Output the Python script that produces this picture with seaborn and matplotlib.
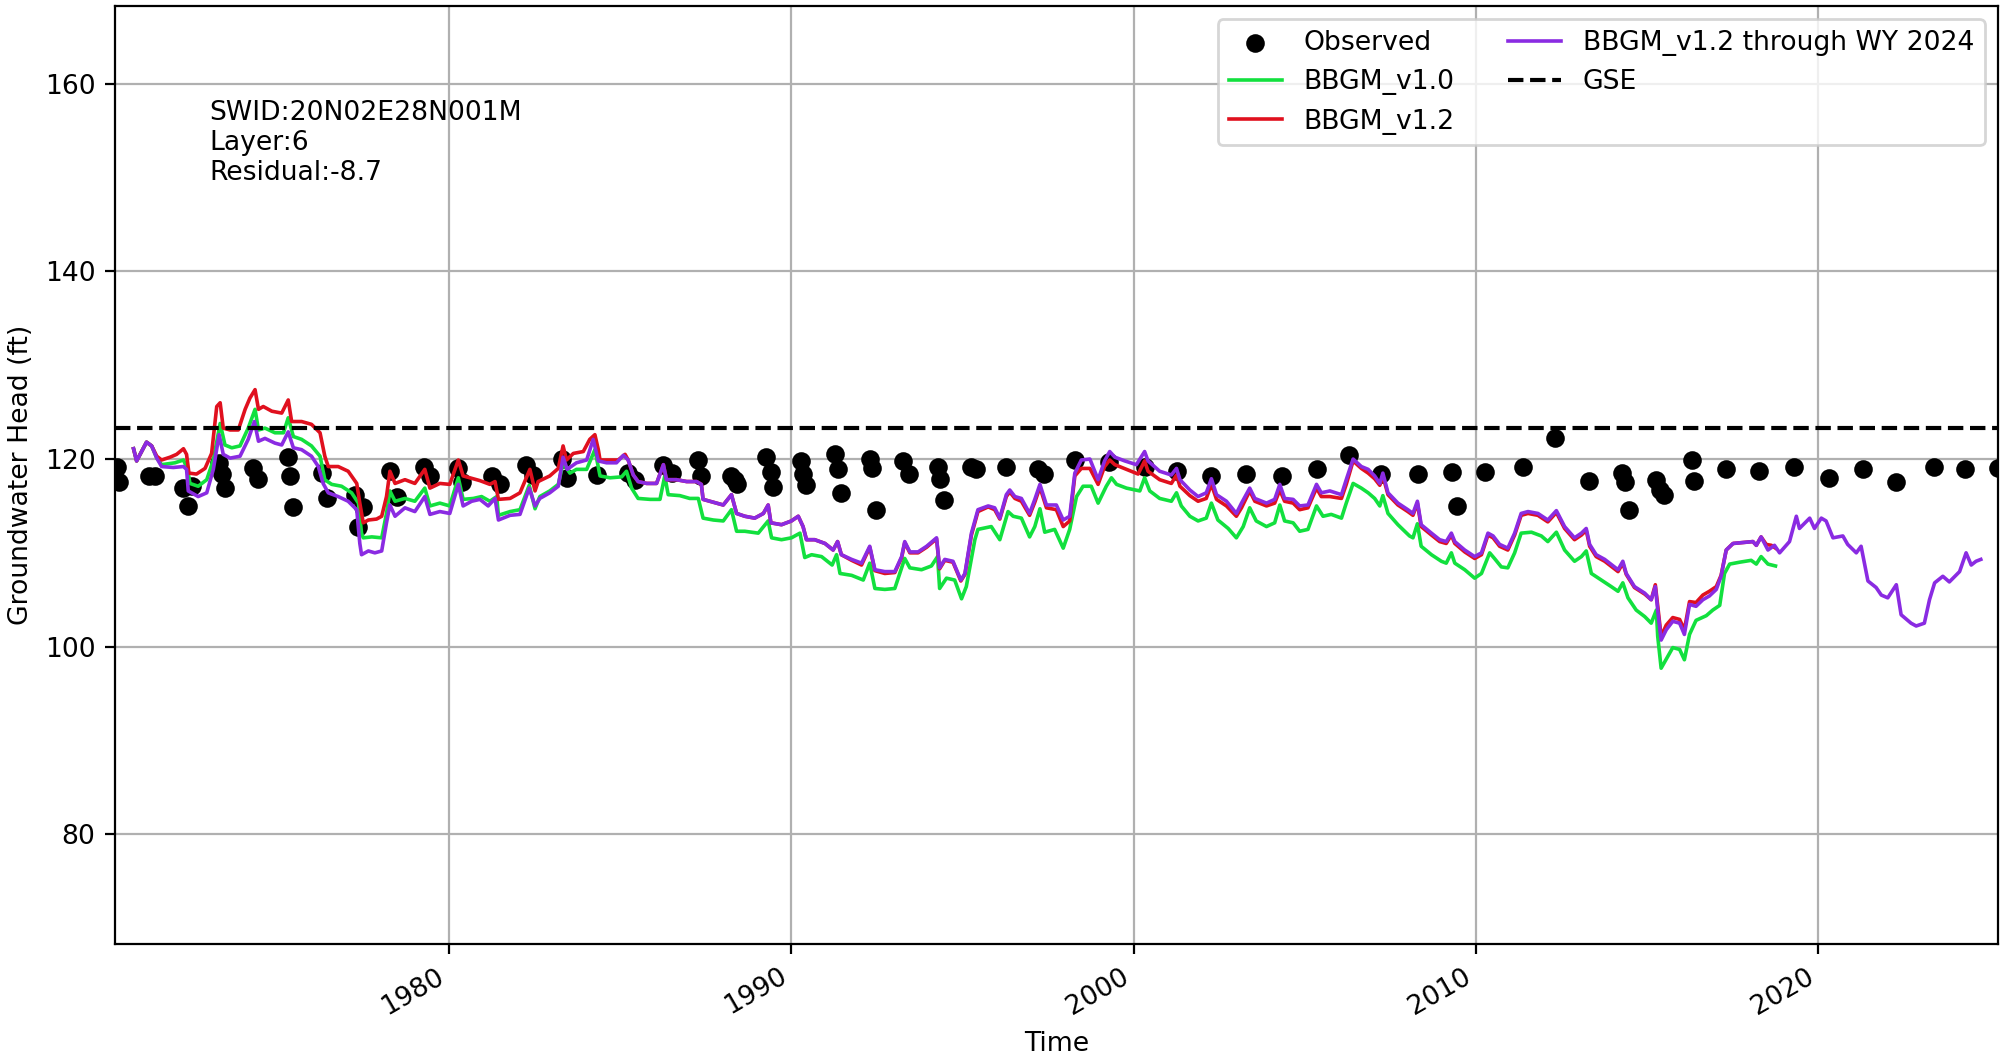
import pandas as pd
import matplotlib
matplotlib.use("Agg")
import matplotlib.pyplot as plt
import matplotlib.dates as mdates
import seaborn as sns

# Observed heads (decimal year, ft)
obs_years = [1970.24, 1970.30, 1970.36, 1971.22, 1971.40, 1972.24, 1972.38, 1972.48,
             1973.28, 1973.36, 1973.45, 1974.28, 1974.43, 1975.28, 1975.35, 1975.45,
             1976.28, 1976.42, 1977.25, 1977.35, 1977.49, 1978.27, 1978.47, 1979.27,
             1979.44, 1980.27, 1980.38, 1981.24, 1981.48, 1982.26, 1982.46, 1983.29,
             1983.43, 1984.31, 1985.23, 1985.43, 1986.26, 1986.50, 1987.28, 1987.37,
             1988.25, 1988.35, 1988.40, 1989.27, 1989.40, 1989.47, 1990.28, 1990.34,
             1990.44, 1991.27, 1991.37, 1991.44, 1992.29, 1992.36, 1992.46, 1993.26,
             1993.43, 1994.27, 1994.33, 1994.46, 1995.26, 1995.38, 1996.28, 1997.21,
             1997.38, 1998.28, 1999.28, 2000.32, 2001.27, 2002.27, 2003.27, 2004.34,
             2005.36, 2006.29, 2007.24, 2008.31, 2009.30, 2009.45, 2010.27, 2011.37,
             2012.30, 2013.30, 2014.26, 2014.36, 2014.46, 2015.27, 2015.39, 2015.49,
             2016.30, 2016.38, 2017.31, 2018.26, 2019.28, 2020.31, 2021.30, 2022.28,
             2023.37, 2024.30, 2025.25]
obs_head = [118.0, 119.2, 117.5, 118.2, 118.2, 116.9, 115.0, 117.1,
            119.6, 118.4, 116.9, 119.0, 117.9, 120.2, 118.2, 114.9,
            118.5, 115.8, 116.2, 112.8, 114.9, 118.7, 116.0, 119.2,
            118.2, 119.0, 117.6, 118.2, 117.3, 119.4, 118.3, 120.0,
            118.0, 118.3, 118.5, 117.8, 119.4, 118.5, 119.9, 118.2,
            118.2, 117.8, 117.3, 120.2, 118.6, 117.0, 119.8, 118.4,
            117.2, 120.5, 118.9, 116.4, 120.0, 119.0, 114.6, 119.8,
            118.4, 119.2, 117.9, 115.6, 119.2, 118.9, 119.1, 118.9,
            118.4, 119.9, 119.7, 119.2, 118.7, 118.2, 118.4, 118.2,
            118.9, 120.4, 118.4, 118.4, 118.6, 115.0, 118.6, 119.2,
            122.2, 117.7, 118.5, 117.5, 114.6, 117.8, 116.7, 116.2,
            119.9, 117.7, 118.9, 118.7, 119.2, 118.0, 118.9, 117.5,
            119.2, 118.9, 119.0]

# BBGM_v1.0
v10_years = [1970.78, 1970.87, 1971.16, 1971.31, 1971.46, 1971.60, 1971.99, 1972.24,
             1972.36, 1972.43, 1972.67, 1972.92, 1973.11, 1973.31, 1973.45, 1973.65,
             1973.89, 1974.13, 1974.33, 1974.43, 1974.62, 1974.91, 1975.16, 1975.30,
             1975.45, 1975.69, 1975.98, 1976.23, 1976.37, 1976.57, 1976.86, 1977.15,
             1977.35, 1977.44, 1977.49, 1977.74, 1978.03, 1978.17, 1978.27, 1978.42,
             1978.71, 1979.00, 1979.29, 1979.44, 1979.73, 1980.02, 1980.27, 1980.41,
             1980.71, 1980.95, 1981.19, 1981.39, 1981.44, 1981.78, 1982.07, 1982.34,
             1982.51, 1982.65, 1982.94, 1983.19, 1983.33, 1983.53, 1983.72, 1984.02,
             1984.26, 1984.41, 1984.70, 1985.04, 1985.18, 1985.33, 1985.52, 1985.87,
             1986.16, 1986.30, 1986.40, 1986.74, 1987.03, 1987.28, 1987.42, 1987.72,
             1988.01, 1988.25, 1988.40, 1988.64, 1989.03, 1989.32, 1989.42, 1989.71,
             1990.00, 1990.25, 1990.39, 1990.59, 1990.88, 1991.19, 1991.32, 1991.42,
             1991.76, 1992.10, 1992.29, 1992.44, 1992.73, 1993.02, 1993.31, 1993.46,
             1993.80, 1994.09, 1994.27, 1994.33, 1994.53, 1994.77, 1994.97, 1995.11,
             1995.36, 1995.45, 1995.84, 1996.09, 1996.33, 1996.48, 1996.72, 1996.96,
             1997.11, 1997.26, 1997.40, 1997.69, 1997.94, 1998.13, 1998.33, 1998.52,
             1998.76, 1998.96, 1999.20, 1999.35, 1999.50, 1999.79, 2000.18, 2000.32,
             2000.47, 2000.76, 2001.10, 2001.25, 2001.39, 2001.64, 2001.88, 2002.12,
             2002.27, 2002.46, 2002.76, 2003.00, 2003.20, 2003.39, 2003.58, 2003.88,
             2004.12, 2004.27, 2004.41, 2004.66, 2004.85, 2005.09, 2005.34, 2005.53,
             2005.77, 2006.07, 2006.21, 2006.41, 2006.65, 2006.85, 2007.04, 2007.19,
             2007.28, 2007.43, 2007.72, 2008.06, 2008.16, 2008.29, 2008.40, 2008.70,
             2008.99, 2009.13, 2009.28, 2009.38, 2009.67, 2009.96, 2010.16, 2010.40,
             2010.54, 2010.74, 2010.93, 2011.13, 2011.32, 2011.62, 2011.91, 2012.10,
             2012.35, 2012.59, 2012.88, 2013.08, 2013.22, 2013.37, 2013.66, 2013.95,
             2014.15, 2014.29, 2014.44, 2014.68, 2014.93, 2015.12, 2015.27, 2015.31,
             2015.41, 2015.61, 2015.75, 2015.95, 2016.09, 2016.24, 2016.43, 2016.73,
             2016.92, 2017.12, 2017.26, 2017.41, 2017.70, 2018.04, 2018.19, 2018.33,
             2018.53, 2018.75]
v10_head = [121.1, 119.8, 121.8, 121.4, 120.1, 119.4, 119.6, 119.9,
            118.9, 117.4, 117.1, 117.8, 119.9, 123.8, 121.5, 121.2,
            121.4, 123.3, 125.3, 123.1, 123.3, 122.8, 122.8, 124.4,
            122.4, 122.1, 121.4, 120.3, 117.8, 117.3, 117.1, 116.4,
            115.3, 112.1, 111.6, 111.7, 111.6, 114.2, 116.6, 115.5,
            115.8, 115.5, 116.9, 115.0, 115.3, 115.0, 118.0, 115.7,
            115.8, 116.0, 115.5, 116.0, 114.0, 114.4, 114.6, 117.2,
            114.7, 116.0, 116.6, 117.3, 119.6, 118.5, 118.9, 118.9,
            121.0, 118.2, 118.0, 118.1, 118.7, 116.9, 115.8, 115.7,
            115.7, 118.2, 116.2, 116.1, 115.8, 115.8, 113.7, 113.5,
            113.4, 114.6, 112.3, 112.3, 112.1, 113.4, 111.6, 111.4,
            111.6, 112.1, 109.5, 109.8, 109.6, 108.7, 109.8, 107.8,
            107.6, 107.1, 108.9, 106.2, 106.1, 106.2, 109.4, 108.4,
            108.2, 108.6, 109.6, 106.2, 107.3, 107.1, 105.1, 106.4,
            111.4, 112.5, 112.8, 111.4, 114.4, 113.9, 113.7, 111.7,
            112.8, 114.7, 112.2, 112.5, 110.5, 112.5, 116.0, 117.1,
            117.1, 115.3, 117.1, 118.0, 117.3, 116.9, 116.6, 118.0,
            116.6, 115.8, 115.5, 116.4, 115.0, 113.9, 113.4, 113.7,
            115.3, 113.5, 112.6, 111.6, 112.8, 114.8, 113.4, 112.8,
            113.2, 115.1, 113.4, 113.2, 112.3, 112.5, 115.0, 113.9,
            114.1, 113.7, 115.3, 117.4, 116.9, 116.4, 115.8, 115.0,
            116.1, 114.2, 113.0, 111.8, 111.6, 113.1, 110.7, 109.8,
            109.1, 108.9, 110.0, 108.9, 108.2, 107.3, 107.8, 110.0,
            109.4, 108.5, 108.4, 110.0, 112.1, 112.2, 111.8, 111.2,
            112.2, 110.3, 109.1, 109.6, 110.2, 107.8, 107.1, 106.4,
            105.9, 106.8, 105.2, 103.9, 103.2, 102.5, 103.9, 101.1,
            97.7, 99.0, 99.9, 99.7, 98.6, 101.3, 102.8, 103.3,
            103.9, 104.4, 107.8, 108.8, 109.0, 109.2, 108.8, 109.6,
            108.8, 108.6]

# BBGM_v1.2
v12_years = [1970.78, 1970.87, 1971.16, 1971.31, 1971.46, 1971.60, 1971.85, 1972.04,
             1972.24, 1972.33, 1972.40, 1972.62, 1972.87, 1973.06, 1973.21, 1973.31,
             1973.40, 1973.60, 1973.84, 1974.04, 1974.18, 1974.33, 1974.43, 1974.57,
             1974.82, 1975.11, 1975.30, 1975.40, 1975.69, 1975.98, 1976.23, 1976.37,
             1976.47, 1976.76, 1977.05, 1977.30, 1977.39, 1977.49, 1977.64, 1977.88,
             1978.03, 1978.17, 1978.27, 1978.42, 1978.71, 1979.00, 1979.29, 1979.44,
             1979.73, 1980.02, 1980.27, 1980.41, 1980.61, 1980.90, 1981.19, 1981.34,
             1981.44, 1981.78, 1982.07, 1982.36, 1982.51, 1982.60, 1982.94, 1983.19,
             1983.33, 1983.43, 1983.63, 1983.92, 1984.11, 1984.26, 1984.36, 1984.41,
             1984.70, 1984.94, 1985.14, 1985.23, 1985.38, 1985.52, 1985.77, 1986.06,
             1986.26, 1986.35, 1986.64, 1986.94, 1987.23, 1987.37, 1987.42, 1987.72,
             1988.01, 1988.25, 1988.40, 1988.64, 1988.93, 1989.18, 1989.32, 1989.40,
             1989.71, 1990.00, 1990.20, 1990.34, 1990.44, 1990.68, 1990.98, 1991.22,
             1991.35, 1991.46, 1991.76, 1992.05, 1992.29, 1992.44, 1992.73, 1993.02,
             1993.22, 1993.31, 1993.46, 1993.70, 1993.95, 1994.24, 1994.33, 1994.48,
             1994.72, 1994.95, 1995.07, 1995.26, 1995.45, 1995.75, 1995.94, 1996.09,
             1996.28, 1996.38, 1996.53, 1996.72, 1996.96, 1997.11, 1997.26, 1997.45,
             1997.74, 1997.94, 1998.13, 1998.28, 1998.47, 1998.72, 1998.96, 1999.15,
             1999.30, 1999.45, 1999.79, 2000.13, 2000.32, 2000.42, 2000.76, 2001.10,
             2001.25, 2001.35, 2001.64, 2001.88, 2002.12, 2002.27, 2002.42, 2002.71,
             2003.00, 2003.15, 2003.39, 2003.54, 2003.88, 2004.12, 2004.27, 2004.41,
             2004.66, 2004.85, 2005.09, 2005.34, 2005.48, 2005.73, 2006.07, 2006.21,
             2006.41, 2006.65, 2006.85, 2007.04, 2007.19, 2007.28, 2007.43, 2007.72,
             2008.01, 2008.16, 2008.29, 2008.40, 2008.70, 2008.94, 2009.13, 2009.28,
             2009.38, 2009.67, 2009.96, 2010.16, 2010.35, 2010.50, 2010.69, 2010.93,
             2011.13, 2011.32, 2011.52, 2011.81, 2012.10, 2012.35, 2012.59, 2012.88,
             2013.08, 2013.22, 2013.32, 2013.51, 2013.76, 2014.15, 2014.29, 2014.39,
             2014.63, 2014.93, 2015.12, 2015.24, 2015.31, 2015.41, 2015.56, 2015.75,
             2015.95, 2016.09, 2016.24, 2016.43, 2016.63, 2016.82, 2017.02, 2017.16,
             2017.31, 2017.51, 2017.80, 2018.09, 2018.19, 2018.33, 2018.48, 2018.63,
             2018.75]
v12_head = [121.1, 119.8, 121.8, 121.4, 120.3, 119.9, 120.2, 120.5,
            121.1, 120.5, 118.5, 118.4, 119.0, 120.6, 125.6, 126.0,
            123.3, 123.1, 123.1, 125.3, 126.5, 127.4, 125.3, 125.6,
            125.1, 124.9, 126.3, 124.0, 124.0, 123.7, 122.8, 120.3,
            119.2, 119.2, 118.7, 117.4, 115.3, 113.2, 113.5, 113.6,
            113.9, 116.0, 118.7, 117.4, 117.8, 117.4, 118.9, 116.9,
            117.4, 117.3, 119.9, 118.2, 118.0, 117.7, 117.3, 117.6,
            115.7, 115.8, 116.4, 118.9, 116.6, 117.6, 118.2, 119.0,
            121.4, 119.9, 120.6, 120.8, 122.1, 122.6, 121.0, 119.9,
            119.9, 119.9, 120.5, 119.9, 118.3, 117.6, 117.4, 117.4,
            119.4, 117.8, 117.8, 117.6, 117.6, 117.3, 115.7, 115.4,
            115.1, 116.2, 114.2, 113.9, 113.7, 114.2, 115.1, 113.2,
            113.0, 113.4, 113.9, 112.8, 111.4, 111.4, 111.0, 110.3,
            111.2, 109.8, 109.2, 108.7, 110.6, 108.1, 107.8, 107.9,
            109.5, 111.1, 110.0, 110.0, 110.6, 111.5, 108.3, 109.2,
            109.0, 107.0, 107.7, 111.9, 114.4, 114.9, 114.6, 113.6,
            116.0, 116.5, 115.8, 115.5, 114.0, 115.4, 117.0, 114.8,
            114.6, 112.8, 113.4, 118.2, 119.0, 119.0, 117.3, 119.2,
            119.9, 119.4, 118.9, 118.4, 119.8, 118.7, 117.8, 117.4,
            118.3, 117.1, 116.1, 115.5, 115.8, 117.3, 115.7, 115.0,
            113.9, 114.8, 116.6, 115.5, 115.0, 115.3, 116.7, 115.5,
            115.3, 114.6, 114.8, 116.9, 116.0, 116.0, 115.8, 117.3,
            119.8, 119.0, 118.5, 117.9, 117.2, 118.2, 116.2, 115.1,
            114.4, 114.0, 115.3, 112.8, 111.9, 111.2, 111.0, 111.9,
            111.0, 110.1, 109.4, 109.8, 111.9, 111.6, 110.7, 110.3,
            111.9, 114.0, 114.2, 114.0, 113.3, 114.3, 112.6, 111.4,
            111.9, 112.4, 110.7, 109.6, 109.1, 108.0, 108.9, 107.7,
            106.3, 105.6, 105.0, 106.6, 104.3, 101.1, 102.3, 103.1,
            102.9, 101.8, 104.8, 104.7, 105.5, 105.9, 106.4, 107.6,
            110.3, 111.0, 111.1, 111.2, 110.8, 111.7, 110.9, 110.8,
            110.5]

# BBGM_v1.2 extended through water year 2024
wy24_years = [1970.78, 1970.87, 1971.16, 1971.31, 1971.46, 1971.60, 1971.94, 1972.24,
              1972.33, 1972.38, 1972.67, 1972.92, 1973.11, 1973.28, 1973.40, 1973.60,
              1973.89, 1974.13, 1974.31, 1974.43, 1974.62, 1974.91, 1975.11, 1975.30,
              1975.45, 1975.69, 1975.98, 1976.18, 1976.32, 1976.47, 1976.76, 1977.05,
              1977.30, 1977.39, 1977.44, 1977.64, 1977.83, 1978.03, 1978.17, 1978.27,
              1978.42, 1978.71, 1979.00, 1979.29, 1979.44, 1979.73, 1980.02, 1980.27,
              1980.41, 1980.66, 1980.90, 1981.14, 1981.34, 1981.44, 1981.78, 1982.07,
              1982.34, 1982.51, 1982.65, 1982.94, 1983.19, 1983.33, 1983.45, 1983.72,
              1984.02, 1984.21, 1984.36, 1984.60, 1984.89, 1985.09, 1985.23, 1985.38,
              1985.52, 1985.77, 1986.06, 1986.26, 1986.35, 1986.64, 1986.94, 1987.23,
              1987.37, 1987.42, 1987.72, 1988.01, 1988.25, 1988.40, 1988.64, 1988.93,
              1989.18, 1989.32, 1989.40, 1989.71, 1990.00, 1990.20, 1990.34, 1990.44,
              1990.68, 1990.98, 1991.22, 1991.35, 1991.46, 1991.76, 1992.05, 1992.29,
              1992.44, 1992.73, 1993.02, 1993.22, 1993.31, 1993.46, 1993.70, 1993.95,
              1994.24, 1994.33, 1994.48, 1994.72, 1994.95, 1995.07, 1995.26, 1995.45,
              1995.75, 1995.94, 1996.09, 1996.28, 1996.38, 1996.53, 1996.72, 1996.96,
              1997.11, 1997.26, 1997.45, 1997.74, 1997.94, 1998.13, 1998.28, 1998.47,
              1998.72, 1998.96, 1999.15, 1999.30, 1999.45, 1999.74, 2000.08, 2000.32,
              2000.42, 2000.76, 2001.10, 2001.25, 2001.35, 2001.64, 2001.88, 2002.12,
              2002.27, 2002.42, 2002.71, 2003.00, 2003.15, 2003.39, 2003.54, 2003.88,
              2004.12, 2004.27, 2004.41, 2004.66, 2004.85, 2005.09, 2005.34, 2005.48,
              2005.73, 2006.07, 2006.21, 2006.41, 2006.65, 2006.85, 2007.04, 2007.19,
              2007.28, 2007.43, 2007.72, 2008.01, 2008.16, 2008.29, 2008.40, 2008.70,
              2008.94, 2009.13, 2009.28, 2009.38, 2009.67, 2009.96, 2010.16, 2010.35,
              2010.50, 2010.69, 2010.93, 2011.13, 2011.32, 2011.52, 2011.81, 2012.10,
              2012.35, 2012.59, 2012.88, 2013.08, 2013.22, 2013.32, 2013.51, 2013.76,
              2014.15, 2014.29, 2014.39, 2014.63, 2014.93, 2015.12, 2015.24, 2015.31,
              2015.41, 2015.56, 2015.75, 2015.95, 2016.09, 2016.24, 2016.43, 2016.63,
              2016.82, 2017.02, 2017.16, 2017.31, 2017.51, 2017.80, 2018.09, 2018.19,
              2018.33, 2018.53, 2018.72, 2018.87, 2019.16, 2019.36, 2019.45, 2019.75,
              2019.89, 2020.09, 2020.23, 2020.43, 2020.72, 2020.86, 2021.11, 2021.25,
              2021.45, 2021.69, 2021.84, 2022.03, 2022.28, 2022.42, 2022.71, 2022.86,
              2023.10, 2023.25, 2023.40, 2023.64, 2023.83, 2024.13, 2024.32, 2024.47,
              2024.61, 2024.75]
wy24_head = [121.1, 119.8, 121.8, 121.4, 120.1, 119.2, 119.1, 119.2,
             118.9, 116.6, 116.0, 116.4, 118.9, 122.6, 120.5, 120.1,
             120.3, 122.1, 124.0, 121.9, 122.2, 121.7, 121.5, 122.9,
             121.2, 121.0, 120.3, 119.2, 117.4, 116.4, 116.0, 115.5,
             114.6, 111.0, 109.8, 110.2, 110.0, 110.2, 113.2, 115.1,
             113.9, 114.8, 114.4, 116.0, 114.1, 114.4, 114.2, 117.3,
             115.0, 115.5, 115.7, 115.0, 115.8, 113.5, 114.0, 114.1,
             116.9, 115.0, 115.8, 116.4, 117.1, 120.2, 118.9, 119.6,
             119.9, 122.1, 119.8, 119.6, 119.6, 120.4, 119.9, 118.3,
             117.6, 117.4, 117.4, 119.4, 117.8, 117.8, 117.6, 117.6,
             117.3, 115.7, 115.4, 115.1, 116.2, 114.2, 113.9, 113.7,
             114.2, 115.1, 113.2, 113.0, 113.4, 113.9, 112.8, 111.4,
             111.4, 111.0, 110.3, 111.2, 109.8, 109.3, 108.9, 110.7,
             108.2, 108.0, 108.0, 109.6, 111.2, 110.1, 110.1, 110.7,
             111.6, 108.4, 109.3, 109.1, 107.1, 107.8, 112.1, 114.6,
             115.0, 114.8, 113.7, 116.2, 116.7, 116.0, 115.8, 114.2,
             115.7, 117.3, 115.1, 115.1, 113.5, 113.9, 118.5, 119.9,
             120.0, 117.8, 119.8, 120.8, 120.2, 119.8, 119.4, 120.8,
             119.8, 118.7, 118.3, 119.0, 117.8, 116.7, 116.0, 116.4,
             117.9, 116.2, 115.5, 114.2, 115.3, 116.9, 115.8, 115.3,
             115.7, 117.3, 115.8, 115.7, 115.0, 115.1, 117.3, 116.4,
             116.6, 116.2, 117.8, 120.0, 119.2, 118.9, 118.2, 117.4,
             118.5, 116.4, 115.3, 114.6, 114.2, 115.5, 113.0, 112.1,
             111.4, 111.2, 112.1, 111.2, 110.3, 109.6, 110.0, 112.1,
             111.8, 110.9, 110.5, 112.1, 114.2, 114.4, 114.2, 113.5,
             114.5, 112.8, 111.6, 112.1, 112.6, 110.9, 109.8, 109.3,
             108.2, 109.1, 107.8, 106.4, 105.7, 105.0, 106.4, 103.9,
             100.7, 101.8, 102.7, 102.5, 101.3, 104.5, 104.3, 105.0,
             105.4, 106.1, 107.5, 110.3, 111.0, 111.1, 111.2, 110.8,
             111.7, 110.3, 110.8, 110.0, 111.2, 113.9, 112.6, 113.7,
             112.6, 113.7, 113.4, 111.6, 111.8, 110.9, 110.0, 110.7,
             107.0, 106.3, 105.5, 105.2, 106.6, 103.4, 102.5, 102.2,
             102.5, 105.0, 106.8, 107.5, 106.9, 108.0, 110.0, 108.7,
             109.1, 109.3]

gse = 123.3
well_info = "SWID:20N02E28N001M\nLayer:6\nResidual:-8.7"


def to_dates(years):
    return [pd.Timestamp(int(y), 1, 1) + pd.Timedelta(days=(y % 1) * 365.25) for y in years]


def main():
    plt.rcParams['font.family'] = ['DejaVu Sans']
    plt.rcParams['font.size'] = 9.6

    fig, ax = plt.subplots(figsize=(10.005, 5.29), dpi=200)
    fig.subplots_adjust(left=0.0575, right=0.9985, top=0.9943, bottom=0.1078)

    obs_dates = to_dates(obs_years)
    sns.scatterplot(x=obs_dates, y=obs_head, color='black', s=45, linewidth=0,
                    label='Observed', ax=ax, zorder=2)
    sns.lineplot(x=to_dates(v10_years), y=v10_head, color='#12e03e', lw=1.3,
                 label='BBGM_v1.0', ax=ax, zorder=3)
    sns.lineplot(x=to_dates(v12_years), y=v12_head, color='#e0101e', lw=1.3,
                 label='BBGM_v1.2', ax=ax, zorder=3)
    sns.lineplot(x=to_dates(wy24_years), y=wy24_head, color='#8a2be2', lw=1.3,
                 label='BBGM_v1.2 through WY 2024', ax=ax, zorder=3)
    ax.axhline(gse, color='black', ls='--', lw=1.5, label='GSE', zorder=3)

    ax.set_xlim(min(obs_dates), max(obs_dates))
    ax.set_ylim(gse - 55, gse + 45)
    ax.xaxis.set_major_locator(mdates.YearLocator(10))
    ax.xaxis.set_major_formatter(mdates.DateFormatter('%Y'))
    plt.setp(ax.get_xticklabels(), rotation=30, ha='right')
    ax.grid(True)
    ax.set_axisbelow(True)

    ax.text(0.05, 0.9, well_info, transform=ax.transAxes, va='top', ha='left')
    ax.set_xlabel('Time')
    ax.set_ylabel('Groundwater Head (ft)')
    ax.legend(loc='upper right', ncol=2)

    fig.savefig('out.png', dpi=200)


if __name__ == "__main__":
    main()
